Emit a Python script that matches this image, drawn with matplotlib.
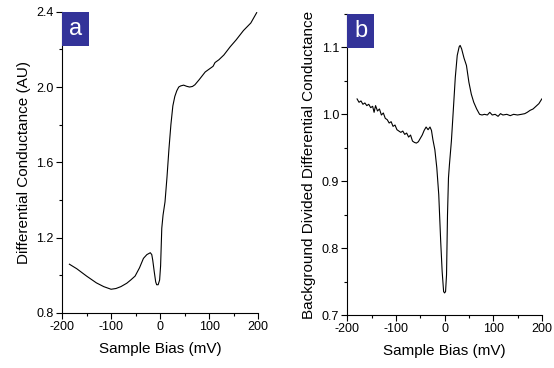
"""
Two-panel tunnelling spectrum: raw differential conductance (a)
and the background-divided conductance (b) against sample bias.
"""

import matplotlib
matplotlib.use('Agg')
import matplotlib.pyplot as plt
from matplotlib.patches import Rectangle
from matplotlib.ticker import MultipleLocator

plt.rcParams['font.family'] = ['Liberation Sans', 'DejaVu Sans']

# ---- Data ----

bias_a = [-185, -170, -150, -130, -115, -100, -90, -80, -68, -60, -51, -42, -34,
          -27, -20, -17, -15, -12, -9, -7, -4, -1, 1, 3.4, 6, 10, 14, 18, 22, 26,
          30, 34, 38, 42, 48, 54, 60, 66, 71, 80, 92, 100, 108, 112, 120, 130,
          143, 155, 170, 185, 197]
conductance_a = [1.059, 1.035, 0.996, 0.960, 0.940, 0.926, 0.930, 0.940, 0.958,
                 0.975, 0.996, 1.040, 1.090, 1.110, 1.120, 1.110, 1.080, 1.020,
                 0.965, 0.950, 0.950, 0.975, 1.050, 1.250, 1.320, 1.390, 1.520,
                 1.670, 1.800, 1.900, 1.950, 1.980, 2.000, 2.006, 2.010, 2.004,
                 2.000, 2.003, 2.012, 2.040, 2.080, 2.095, 2.110, 2.130, 2.145,
                 2.170, 2.214, 2.250, 2.300, 2.340, 2.395]

bias_b = [-180, -176, -172, -168, -164, -160, -156, -152, -148, -145, -142, -138,
          -134, -130, -126, -122, -118, -114, -110, -106, -102, -98, -94, -90,
          -86, -82, -78, -74, -70, -66, -62, -58, -54, -50, -46, -42, -38, -34,
          -30, -27, -24, -20, -16, -12, -8, -5, -2, 0, 2, 4, 6, 8, 10, 14, 18,
          22, 26, 30, 32, 35, 40, 45, 50, 55, 60, 66, 72, 77, 82, 88, 93, 98,
          104, 110, 115, 120, 128, 135, 142, 150, 158, 165, 170, 176, 182, 188,
          194, 200]
conductance_b = [1.023, 1.018, 1.020, 1.015, 1.017, 1.013, 1.015, 1.010, 1.012,
                 1.003, 1.013, 1.005, 1.008, 0.999, 1.002, 0.994, 0.992, 0.987,
                 0.989, 0.982, 0.984, 0.977, 0.975, 0.973, 0.975, 0.970, 0.972,
                 0.966, 0.969, 0.960, 0.958, 0.957, 0.959, 0.964, 0.969, 0.976,
                 0.981, 0.977, 0.981, 0.976, 0.962, 0.947, 0.920, 0.880, 0.810,
                 0.765, 0.735, 0.733, 0.735, 0.760, 0.850, 0.905, 0.925, 0.960,
                 1.007, 1.055, 1.088, 1.101, 1.103, 1.098, 1.084, 1.073, 1.048,
                 1.030, 1.018, 1.008, 1.000, 0.999, 1.000, 0.999, 1.003, 0.999,
                 1.000, 0.997, 1.001, 0.999, 1.000, 0.998, 1.000, 0.999, 1.000,
                 1.001, 1.003, 1.006, 1.008, 1.012, 1.016, 1.023]

bias_ticks = [-200, -100, 0, 100, 200]


# ---- Helper ----

def style_panel(ax, letter):
    """Origin-like look: only left/bottom spines, outward ticks, letter badge."""
    ax.spines['top'].set_visible(False)
    ax.spines['right'].set_visible(False)
    ax.tick_params(which='major', direction='out', length=4, width=0.8,
                   labelsize=9, pad=2)
    ax.tick_params(which='minor', direction='out', length=2, width=0.8)
    ax.set_xlim(-200, 200)
    ax.set_xticks(bias_ticks)
    ax.set_xticklabels([str(t) for t in bias_ticks])
    ax.xaxis.set_minor_locator(MultipleLocator(50))
    ax.set_xlabel('Sample Bias (mV)', fontsize=11, labelpad=6)
    ax.add_patch(Rectangle((0, 0.887), 0.138, 0.113, transform=ax.transAxes,
                           facecolor='#333399', edgecolor='none',
                           clip_on=False, zorder=5))
    ax.text(0.069, 0.943, letter, transform=ax.transAxes, color='white',
            fontsize=17, ha='center', va='center', zorder=6)


fig = plt.figure(figsize=(5.54, 3.68), dpi=100)

# ---- Panel a ----
ax_a = fig.add_axes([0.112, 0.1495, 0.354, 0.8187])
ax_a.plot(bias_a, conductance_a, color='black', linewidth=0.8)
ax_a.set_ylim(0.8, 2.4)
ax_a.yaxis.set_major_locator(MultipleLocator(0.4))
ax_a.yaxis.set_minor_locator(MultipleLocator(0.2))
ax_a.yaxis.set_major_formatter('{x:.1f}')
ax_a.set_ylabel('Differential Conductance (AU)', fontsize=11, labelpad=4)
style_panel(ax_a, 'a')

# ---- Panel b ----
ax_b = fig.add_axes([0.627, 0.144, 0.351, 0.818])
ax_b.plot(bias_b, conductance_b, color='black', linewidth=0.8)
ax_b.set_ylim(0.7, 1.15)
ax_b.yaxis.set_major_locator(MultipleLocator(0.1))
ax_b.yaxis.set_minor_locator(MultipleLocator(0.05))
ax_b.yaxis.set_major_formatter('{x:.1f}')
ax_b.set_ylabel('Background Divided Differential Conductance', fontsize=11,
                labelpad=4)
style_panel(ax_b, 'b')

fig.savefig('out.png', dpi=100)
